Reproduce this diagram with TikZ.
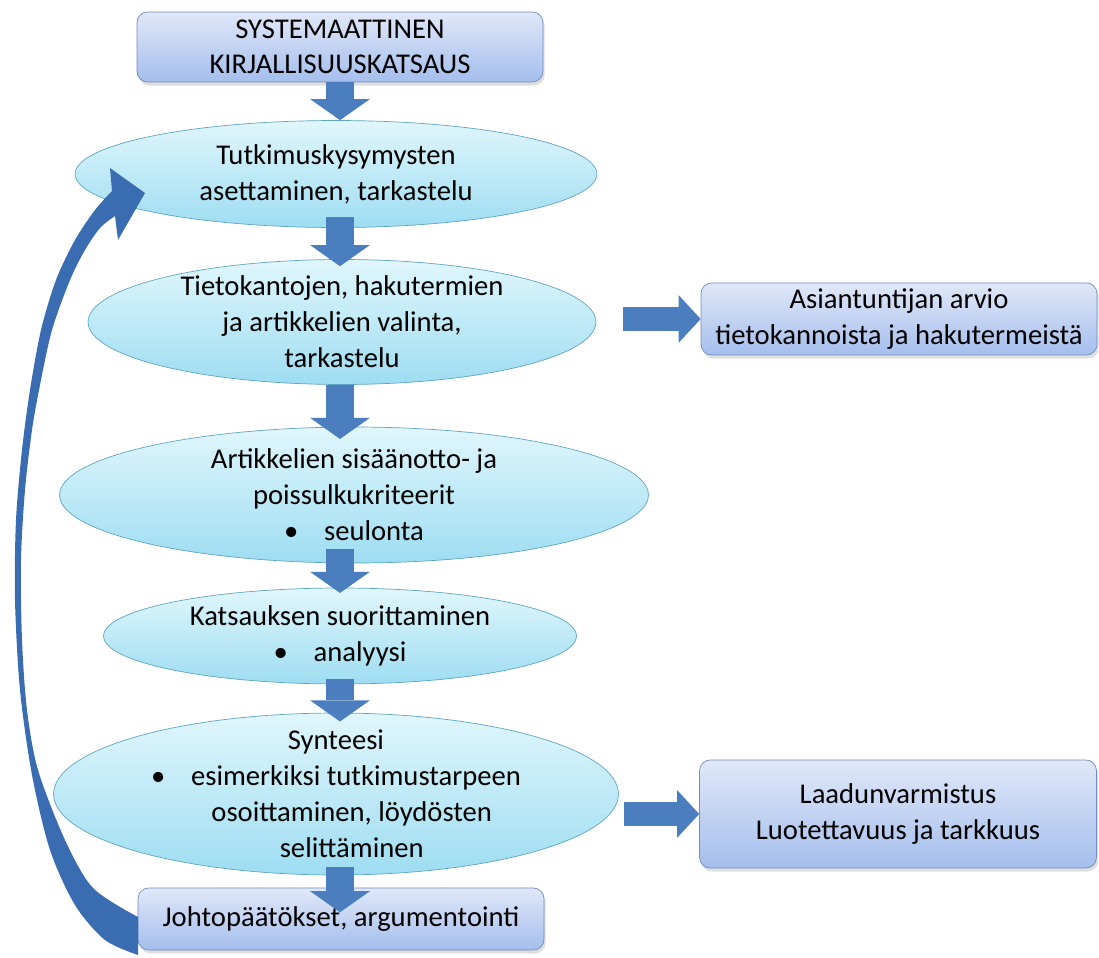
\documentclass[tikz,border=0pt]{standalone}
\usepackage{fontspec}
\setmainfont{Carlito}
\usepackage{tikz}
\usetikzlibrary{positioning,shapes.geometric,arrows.meta,shadows}
\definecolor{BoxTop}{RGB}{224,232,249}
\definecolor{BoxBottom}{RGB}{164,190,236}
\definecolor{BoxLine}{RGB}{112,140,190}
\definecolor{EllTop}{RGB}{224,246,252}
\definecolor{EllBottom}{RGB}{158,221,242}
\definecolor{EllLine}{RGB}{96,165,192}
\definecolor{ArrowBlue}{RGB}{74,126,190}
\definecolor{LoopBlue}{RGB}{58,108,178}
\tikzset{
	stepbox/.style={rectangle,draw=BoxLine,thin,rounded corners=6pt,
		top color=BoxTop,bottom color=BoxBottom,align=center,inner sep=0pt,
		font=\fontsize{16.3}{20}\selectfont,
		drop shadow={opacity=0.25,shadow xshift=1pt,shadow yshift=-2pt}},
	phase/.style={ellipse,draw=EllLine,thin,top color=EllTop,bottom color=EllBottom,
		align=center,inner xsep=0pt,inner ysep=-12pt,
		font=\fontsize{16.3}{20.5}\selectfont},
	downarrow/.style={ArrowBlue,line width=15.4pt,
		-{Triangle[width=34pt,length=12pt,line width=0pt]}},
	sidearrow/.style={ArrowBlue,line width=14pt,
		-{Triangle[width=27pt,length=12.5pt,line width=0pt]}}
}

\begin{document}
\begin{tikzpicture}[x=0.02cm,y=-0.02cm]
			\useasboundingbox (0,0) rectangle (1099,957);
			\node [stepbox,minimum width=8.12cm,minimum height=1.4cm,name = skk] at (340,47) {SYSTEMAATTINEN\\KIRJALLISUUSKATSAUS};
			\node [phase,minimum width=10.44cm,minimum height=2.14cm,name = kys] at (336,174) {Tutkimuskysymysten\\asettaminen, tarkastelu};
			\node [phase,minimum width=10.16cm,minimum height=2.5cm,name = valinta] at (342,322) {Tietokantojen, hakutermien\\ja artikkelien valinta,\\tarkastelu};
			\node [phase,minimum width=11.78cm,minimum height=2.72cm,name = krit] at (354,495) {Artikkelien sisäänotto- ja\\poissulkukriteerit\\\textbullet\hspace{0.9em}seulonta};
			\node [phase,minimum width=9.46cm,minimum height=1.92cm,name = suor] at (340,636) {Katsauksen suorittaminen\\\textbullet\hspace{0.9em}analyysi};
			\node [phase,minimum width=11.3cm,minimum height=3.24cm,name = synt] at (336,794) {Synteesi\\\textbullet\hspace{0.9em}esimerkiksi tutkimustarpeen\\\hspace*{1.1em}osoittaminen, löydösten\\\hspace*{1.1em}selittäminen};
			\node [stepbox,minimum width=8.12cm,minimum height=1.24cm,name = johto] at (341,919) {Johtopäätökset, argumentointi};
			\node [stepbox,minimum width=7.92cm,minimum height=1.44cm,name = arvio] at (899,319) {Asiantuntijan arvio\\tietokannoista ja hakutermeistä};
			\node [stepbox,minimum width=7.94cm,minimum height=2.16cm,name = laatu] at (898,814) {Laadunvarmistus\\Luotettavuus ja tarkkuus};
			\draw [downarrow] (skk.south) -- (skk.south |- kys.north);
			\draw [downarrow,shorten <=-6pt,shorten >=-4pt] (skk |- kys.south) -- (skk |- valinta.north);
			\draw [downarrow,shorten >=-7pt] (skk |- valinta.south) -- (skk |- krit.north);
			\draw [downarrow,shorten <=-8pt,shorten >=-3pt] (skk |- krit.south) -- (skk |- suor.north);
			\draw [downarrow,shorten <=-3pt,shorten >=-5pt] (skk |- suor.south) -- (skk |- synt.north);
			\draw [downarrow,shorten <=-5pt,shorten >=-14pt] (skk |- synt.south) -- (skk |- johto.north);
			\draw [sidearrow,shorten <=15pt] (valinta.east |- arvio.west) -- (arvio.west);
			\draw [sidearrow,shorten <=3pt] (synt.east |- laatu.west) -- (laatu.west);
			\fill [LoopBlue] plot [smooth] coordinates {(138,955) (105,940) (75,905) (50,850) (32,775) (20,690) (15,600) (16,520) (22,450) (30,390) (41,330) (56,280) (75,240) (95,210) (112,191)}
				-- (110,168) -- (145,193) -- (118,240) -- (115,216)
				-- plot [smooth] coordinates {(115,216) (100,228) (85,250) (70,280) (52,330) (40,385) (32,430) (25,490) (21,560) (22,640) (27,710) (38,770) (65,840) (93,888) (138,917)} -- cycle;
		\end{tikzpicture}
\end{document}
